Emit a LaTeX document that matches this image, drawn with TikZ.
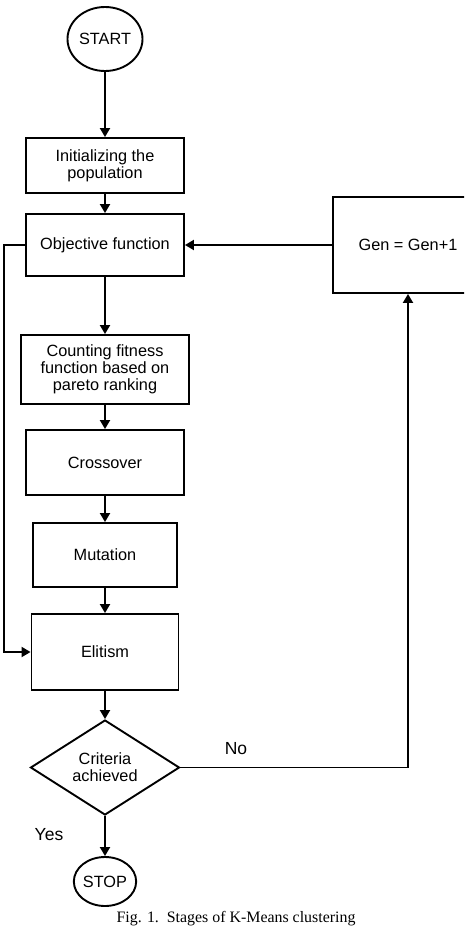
\documentclass[tikz,border=0pt]{standalone}
\usepackage{fontspec}
\setmainfont{Liberation Sans}
\newfontfamily\capfont{Liberation Serif}
\usetikzlibrary{shapes.geometric,arrows.meta}
\tikzset{
  base/.style={draw=black, line width=1.9pt, inner sep=0pt, align=center,
    font=\fontsize{16.3}{17}\selectfont},
  boxnode/.style={base, rectangle},
  ovalnode/.style={base, ellipse},
  decide/.style={base, diamond, aspect=1.57},
  conn/.style={line width=1.9pt, -{Triangle[length=9pt,width=10pt]}},
  lbl/.style={inner sep=0pt, font=\fontsize{17.5}{18}\selectfont}
}
\begin{document}
\begin{tikzpicture}[x=1pt,y=-1pt]
\clip (0,0) rectangle (464,930);
\fill[white] (0,0) rectangle (464,930);
\node[ovalnode, minimum width=75pt, minimum height=64pt] (start) at (105,39) {START};
\node[boxnode, minimum width=158pt, minimum height=55pt] (init) at (105,165.5) {Initializing the\\population};
\node[boxnode, minimum width=158pt, minimum height=62pt] (obj) at (105,245) {Objective function};
\node[boxnode, minimum width=150pt, minimum height=96pt] (gen) at (408,245) {Gen = Gen+1};
\node[boxnode, minimum width=168pt, minimum height=69pt] (count) at (105,369.5) {Counting fitness\\function based on\\pareto ranking};
\node[boxnode, minimum width=158pt, minimum height=65pt] (cross) at (105,462.5) {Crossover};
\node[boxnode, minimum width=144pt, minimum height=64pt] (mut) at (105,555) {Mutation};
\node[boxnode, minimum width=147pt, minimum height=76pt] (elit) at (105,652) {Elitism};
\node[decide, minimum width=149pt, minimum height=95pt] (crit) at (105,767.5) {Criteria\\achieved};
\node[ovalnode, minimum width=56pt, minimum height=49pt] (stop) at (105,881.5) {STOP};
\node[lbl] (no) at (236,749) {No};
\node[lbl] (yes) at (49,835) {Yes};
\node[inner sep=0pt, font=\capfont\fontsize{15.9}{17}\selectfont] (cap) at (236,919) {Fig. 1.\ \ Stages of K-Means clustering};
\coordinate (lf) at (4,0);
\draw[conn] (start) -- (init);
\draw[conn] (init) -- (obj);
\draw[conn] (gen.west) -- (obj.east);
\draw[conn] (obj) -- (count);
\draw[conn] (count) -- (cross);
\draw[conn] (cross) -- (mut);
\draw[conn] (mut) -- (elit);
\draw[conn] (elit) -- (crit);
\draw[conn] (crit.south) -- (stop.north);
\draw[conn] (obj.west) -- (lf |- obj.west) -- (lf |- elit.west) -- (elit.west);
\draw[conn] (crit.east) -| (gen.south);
\end{tikzpicture}
\end{document}
